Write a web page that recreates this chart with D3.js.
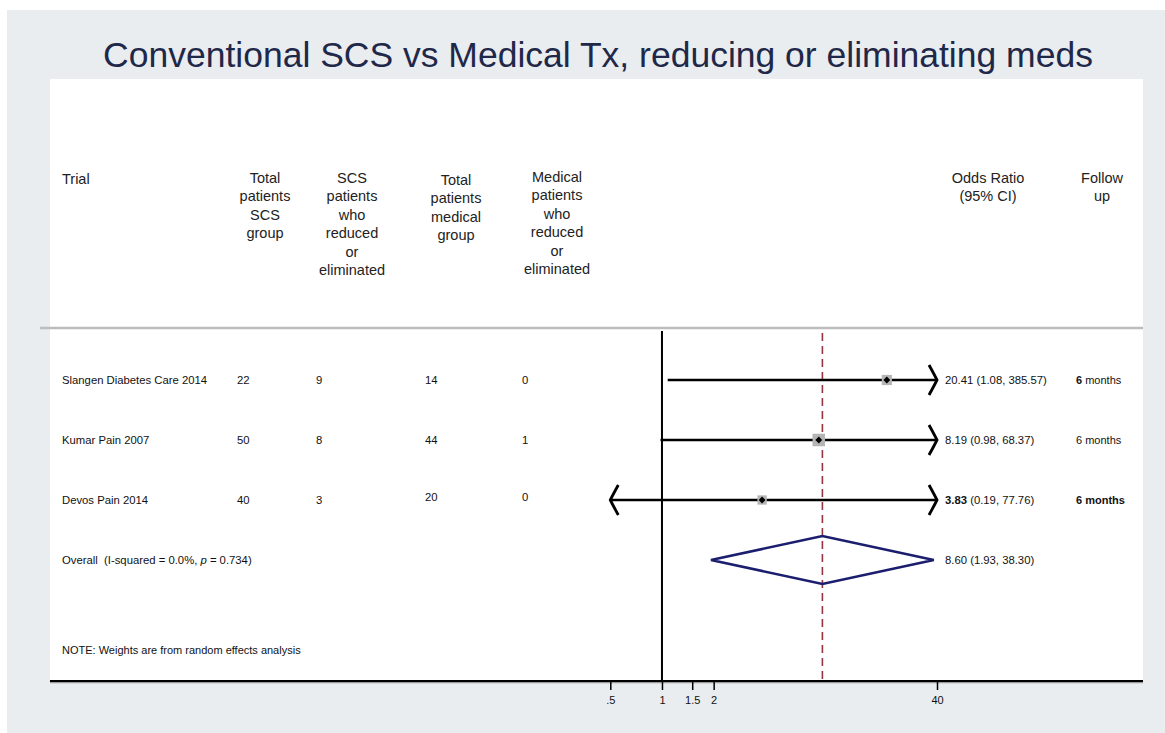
<!DOCTYPE html>
<html><head><meta charset="utf-8">
<script src="https://cdn.jsdelivr.net/npm/d3@7"></script>
<style>html,body{margin:0;padding:0;background:#fff}svg{display:block}</style>
</head><body>
<svg id="chart" width="1165" height="733"></svg>
<script>
// ---- data ----
const title = "Conventional SCS vs Medical Tx, reducing or eliminating meds";
const trials = ["Slangen Diabetes Care 2014", "Kumar Pain 2007", "Devos Pain 2014"];
const scsTotal = [22, 50, 40];
const scsReduced = [9, 8, 3];
const medTotal = [14, 44, 20];
const medReduced = [0, 1, 0];
const oddsRatio = [20.41, 8.19, 3.83];
const ciLow = [1.08, 0.98, 0.19];
const ciHigh = [385.57, 68.37, 77.76];
const weights = [30, 45, 25];
const followUp = ["6 months", "6 months", "6 months"];
const overallOR = 8.60, overallLow = 1.93, overallHigh = 38.30;
const overallLabel = ["Overall  (I-squared = 0.0%, ", "p", " = 0.734)"];
const note = "NOTE: Weights are from random effects analysis";
const tickValues = [0.5, 1, 1.5, 2, 40];
const tickLabels = [".5", "1", "1.5", "2", "40"];
const headers = [
  {lines: ["Trial"], anchor: "start"},
  {lines: ["Total", "patients", "SCS", "group"]},
  {lines: ["SCS", "patients", "who", "reduced", "or", "eliminated"]},
  {lines: ["Total", "patients", "medical", "group"]},
  {lines: ["Medical", "patients", "who", "reduced", "or", "eliminated"]},
  {lines: ["Odds Ratio", "(95% CI)"]},
  {lines: ["Follow", "up"]}
];

// ---- layout ----
const svg = d3.select("#chart");
const font = "'Liberation Sans', Arial, sans-serif";
const panel = {x0: 50, x1: 1143, y0: 79, y1: 681};
const rowFont = 11.3;

svg.append("rect").attr("x", 7).attr("y", 10).attr("width", 1158).attr("height", 723).attr("fill", "#e9edf0");
svg.append("rect").attr("x", panel.x0).attr("y", panel.y0).attr("width", panel.x1 - panel.x0).attr("height", panel.y1 - panel.y0).attr("fill", "#fff");

// title
const t = svg.append("text").attr("x", 598).attr("y", 67).attr("text-anchor", "middle")
  .attr("font-family", font).attr("font-size", 35).attr("fill", "#1f2849").text(title);
const tw = t.node().getComputedTextLength();
t.attr("font-size", 35 * 990 / tw);

// headers
const headerX = [62, 265, 352, 456, 557, 988, 1102];
const headerY = [184, 183, 183, 185, 182, 183, 183];
headers.forEach((h, i) => {
  const tx = svg.append("text").attr("font-family", font).attr("font-size", 14.5).attr("fill", "#222")
    .attr("text-anchor", h.anchor || "middle");
  h.lines.forEach((ln, j) => {
    tx.append("tspan").attr("x", headerX[i]).attr("y", headerY[i] + j * 18.4).text(ln);
  });
});

// separator
svg.append("line").attr("x1", panel.x0 - 10).attr("x2", panel.x1).attr("y1", 328).attr("y2", 328)
  .attr("stroke", "#bdbdbd").attr("stroke-width", 2.5);

// scales
const x = d3.scaleLog().domain([0.5, 40]).range([610.3, 937]);
const rowY = d3.scalePoint().domain(d3.range(4)).range([380, 560]);
const sq = d3.scaleSqrt().domain([0, 45]).range([0, 12.5]);

// reference lines
svg.append("line").attr("x1", x(1)).attr("x2", x(1)).attr("y1", 331).attr("y2", panel.y1)
  .attr("stroke", "#000").attr("stroke-width", 2);
svg.append("line").attr("x1", x(overallOR)).attr("x2", x(overallOR)).attr("y1", 333).attr("y2", panel.y1)
  .attr("stroke", "#943540").attr("stroke-width", 1.6).attr("stroke-dasharray", "8,5");

// rows text
const colX = [237, 316, 425, 522];
const cols = [scsTotal, scsReduced, medTotal, medReduced];
trials.forEach((name, i) => {
  const y = rowY(i) + 4;
  svg.append("text").attr("x", 62).attr("y", y).attr("font-family", font).attr("font-size", rowFont).attr("fill", "#111").text(name);
  cols.forEach((c, k) => {
    svg.append("text").attr("x", colX[k]).attr("y", y - ((i === 2 && k >= 2) ? 3 : 0))
      .attr("font-family", font).attr("font-size", rowFont).attr("fill", "#111").text(c[i]);
  });
});

// CI lines, arrows, squares
const [dmin, dmax] = x.domain();
trials.forEach((_, i) => {
  const y = rowY(i);
  const lo = Math.max(ciLow[i], dmin), hi = Math.min(ciHigh[i], dmax);
  svg.append("line").attr("x1", x(lo)).attr("x2", x(hi)).attr("y1", y).attr("y2", y)
    .attr("stroke", "#000").attr("stroke-width", 2.5);
  if (ciHigh[i] > dmax) {
    const xr = x(dmax);
    svg.append("path").attr("d", `M${xr - 8},${y - 15} Q${xr - 3},${y - 6} ${xr},${y} Q${xr - 3},${y + 6} ${xr - 8},${y + 15}`)
      .attr("fill", "none").attr("stroke", "#000").attr("stroke-width", 2.8);
  }
  if (ciLow[i] < dmin) {
    const xl = x(dmin);
    svg.append("path").attr("d", `M${xl + 8},${y - 15} Q${xl + 3},${y - 6} ${xl},${y} Q${xl + 3},${y + 6} ${xl + 8},${y + 15}`)
      .attr("fill", "none").attr("stroke", "#000").attr("stroke-width", 2.8);
  }
  const s = sq(weights[i]);
  svg.append("rect").attr("x", x(oddsRatio[i]) - s / 2).attr("y", y - s / 2).attr("width", s).attr("height", s)
    .attr("fill", "#b5b5b5");
  svg.append("path").attr("d", d3.symbol(d3.symbolDiamond2, 30)()).attr("transform", `translate(${x(oddsRatio[i])},${y})`)
    .attr("fill", "#000");
});

// overall diamond
const oy = rowY(3);
svg.append("path").attr("d", `M${x(overallLow)},${oy} L${x(overallOR)},${oy - 24} L${x(overallHigh)},${oy} L${x(overallOR)},${oy + 24} Z`)
  .attr("fill", "none").attr("stroke", "#1b1e6e").attr("stroke-width", 2.6);

// overall label
const ol = svg.append("text").attr("x", 62).attr("y", oy + 4).attr("font-family", font).attr("font-size", rowFont)
  .attr("fill", "#111").style("white-space", "pre");
ol.append("tspan").text(overallLabel[0]);
ol.append("tspan").attr("font-style", "italic").text(overallLabel[1]);
ol.append("tspan").text(overallLabel[2]);

// OR labels and follow-up
const fmt = d3.format(".2f");
const boldOR = [false, false, true];
const boldFU = ["num", "none", "all"];
trials.forEach((_, i) => {
  const y = rowY(i) + 4;
  const tx = svg.append("text").attr("x", 945).attr("y", y).attr("font-family", font).attr("font-size", rowFont).attr("fill", "#111");
  tx.append("tspan").attr("font-weight", boldOR[i] ? "bold" : "normal").text(fmt(oddsRatio[i]));
  tx.append("tspan").text(` (${fmt(ciLow[i])}, ${fmt(ciHigh[i])})`);
  const parts = followUp[i].split(" ");
  const fu = svg.append("text").attr("x", 1076).attr("y", y).attr("font-family", font).attr("font-size", 11).attr("fill", "#111");
  fu.append("tspan").attr("font-weight", boldFU[i] !== "none" ? "bold" : "normal").text(parts[0]);
  fu.append("tspan").attr("font-weight", boldFU[i] === "all" ? "bold" : "normal").text(" " + parts[1]);
});
svg.append("text").attr("x", 945).attr("y", oy + 4).attr("font-family", font).attr("font-size", rowFont).attr("fill", "#111")
  .text(`${fmt(overallOR)} (${fmt(overallLow)}, ${fmt(overallHigh)})`);

// note
svg.append("text").attr("x", 62).attr("y", 654).attr("font-family", font).attr("font-size", 11).attr("fill", "#111").text(note);

// axis
svg.append("line").attr("x1", panel.x0).attr("x2", panel.x1).attr("y1", panel.y1 + 1.5).attr("y2", panel.y1 + 1.5)
  .attr("stroke", "#9a9a9a").attr("stroke-width", 1.5);
const axis = d3.axisBottom(x).tickValues(tickValues).tickFormat((d, i) => tickLabels[i]).tickSize(9).tickPadding(6);
const ag = svg.append("g").attr("transform", `translate(0,${panel.y1})`).call(axis);
ag.select(".domain").remove();
ag.selectAll(".tick line").attr("stroke", "#000").attr("stroke-width", 1.5);
ag.selectAll(".tick text").attr("font-family", font).attr("font-size", 11).attr("fill", "#111");
svg.append("line").attr("x1", panel.x0).attr("x2", panel.x1).attr("y1", panel.y1).attr("y2", panel.y1)
  .attr("stroke", "#000").attr("stroke-width", 2);
</script>
</body></html>
